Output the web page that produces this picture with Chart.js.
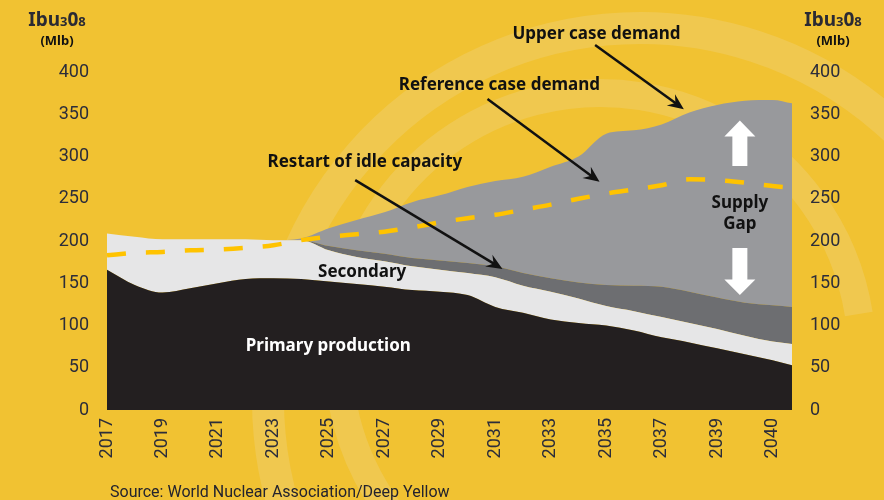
<!DOCTYPE html>
<html>
<head>
<meta charset="utf-8">
<script src="https://cdn.jsdelivr.net/npm/chart.js@4.4.1/dist/chart.umd.min.js"></script>
<style>
  html, body { margin: 0; padding: 0; background: #F1C232; }
  #caja { width: 884px; height: 500px; }
</style>
</head>
<body>
<div id="caja"><canvas id="grafico" width="884" height="500"></canvas></div>
<script>
// DATOS (Mlb U3O8)
const years = [2017, 2018, 2019, 2020, 2021, 2022, 2023, 2024, 2025, 2026, 2027, 2028, 2029,
  2030, 2031, 2032, 2033, 2034, 2035, 2036, 2037, 2038, 2039, 2040, 2041, 2041.7];

const primaryProduction = [166, 148, 139, 144, 150, 155, 156, 155, 152, 149, 146, 142, 140,
  136, 122, 115, 107, 103, 100, 94, 86, 80, 73, 66, 59, 53];
const withSecondary = [209, 205, 202, 202, 202, 202, 201, 201, 189, 181, 176, 170, 166,
  162, 157, 147, 140, 132, 123, 117, 110, 103, 96, 88, 81, 78];
const withRestart = [209, 205, 202, 202, 202, 202, 201, 201, 194, 189, 185, 180, 177,
  174, 170, 162, 156, 151, 148, 147, 146, 140, 133, 127, 124, 122];
const upperCaseDemand = [209, 205, 202, 202, 202, 202, 201, 203, 215, 225, 234, 246, 254,
  264, 271, 276, 288, 300, 327, 331, 338, 352, 361, 366, 367, 363];
const referenceCaseDemand = [183, 186, 187, 189, 190, 192, 195, 201, 205, 208, 211, 216, 222,
  227, 231, 237, 243, 250, 256, 261, 266, 273, 272, 269, 265, 263];

const tickYears = [2017, 2019, 2021, 2023, 2025, 2027, 2029, 2031, 2033, 2035, 2037, 2039, 2041];
const tickLabels = ['2017', '2019', '2021', '2023', '2025', '2027', '2029', '2031', '2033',
  '2035', '2037', '2039', '2040'];

// etiquetas y flechas (en unidades de datos: año, Mlb)
const textos = [
  { t: 'Upper case demand', x: 2034.65, y: 445, color: '#111' },
  { t: 'Reference case demand', x: 2031.15, y: 385, color: '#111' },
  { t: 'Restart of idle capacity', x: 2026.3, y: 293.5, color: '#111' },
  { t: 'Secondary', x: 2026.2, y: 163, color: '#111' },
  { t: 'Primary production', x: 2024.98, y: 76, color: '#fff' },
  { t: 'Supply', x: 2039.82, y: 245, color: '#111' },
  { t: 'Gap', x: 2039.82, y: 220, color: '#111' }
];
const flechas = [
  { x1: 2034.6, y1: 432, x2: 2037.8, y2: 356 },
  { x1: 2030.72, y1: 368, x2: 2034.76, y2: 270 },
  { x1: 2025.95, y1: 272, x2: 2031.26, y2: 167 }
];

const serie = (vals) => vals.map((v, i) => ({ x: years[i], y: v }));

function flecha(ctx, x1, y1, x2, y2) {
  const a = Math.atan2(y2 - y1, x2 - x1);
  const L = 16, W = 7;
  ctx.beginPath();
  ctx.moveTo(x1, y1);
  ctx.lineTo(x2 - Math.cos(a) * L * 0.6, y2 - Math.sin(a) * L * 0.6);
  ctx.stroke();
  ctx.save();
  ctx.translate(x2, y2);
  ctx.rotate(a);
  ctx.beginPath();
  ctx.moveTo(0, 0);
  ctx.lineTo(-L, -W);
  ctx.lineTo(-L * 0.65, 0);
  ctx.lineTo(-L, W);
  ctx.closePath();
  ctx.fill();
  ctx.restore();
}

const fondo = {
  id: 'fondo',
  beforeDraw(chart) {
    const { ctx, width, height } = chart;
    ctx.save();
    ctx.fillStyle = '#F1C232';
    ctx.fillRect(0, 0, width, height);
    ctx.strokeStyle = '#F0C84F';
    ctx.lineWidth = 28;
    ctx.beginPath();
    ctx.arc(600, 355, 262, Math.PI * 0.8, Math.PI * 1.95);
    ctx.stroke();
    ctx.lineWidth = 32;
    ctx.beginPath();
    ctx.arc(640, 400, 372, Math.PI * 0.85, Math.PI * 1.9);
    ctx.stroke();
    ctx.restore();
  }
};

const notas = {
  id: 'notas',
  afterDatasetsDraw(chart) {
    const { ctx } = chart;
    const sx = chart.scales.x, sy = chart.scales.y;
    ctx.save();
    // flechas negras
    ctx.strokeStyle = '#111';
    ctx.fillStyle = '#111';
    ctx.lineWidth = 2.5;
    flechas.forEach(f => flecha(ctx, sx.getPixelForValue(f.x1), sy.getPixelForValue(f.y1),
      sx.getPixelForValue(f.x2), sy.getPixelForValue(f.y2)));

    // flechas blancas del gap
    const cx = sx.getPixelForValue(2039.82);
    ctx.fillStyle = '#fff';
    let top = sy.getPixelForValue(342.6), base = sy.getPixelForValue(323.7), fin = sy.getPixelForValue(288.8);
    ctx.beginPath();
    ctx.moveTo(cx, top); ctx.lineTo(cx + 15.5, base); ctx.lineTo(cx + 7.5, base);
    ctx.lineTo(cx + 7.5, fin); ctx.lineTo(cx - 7.5, fin); ctx.lineTo(cx - 7.5, base);
    ctx.lineTo(cx - 15.5, base); ctx.closePath(); ctx.fill();
    top = sy.getPixelForValue(191.7); base = sy.getPixelForValue(154.4); fin = sy.getPixelForValue(136.1);
    ctx.beginPath();
    ctx.moveTo(cx - 7.5, top); ctx.lineTo(cx + 7.5, top); ctx.lineTo(cx + 7.5, base);
    ctx.lineTo(cx + 15.5, base); ctx.lineTo(cx, fin); ctx.lineTo(cx - 15.5, base);
    ctx.lineTo(cx - 7.5, base); ctx.closePath(); ctx.fill();

    // textos
    ctx.font = 'bold 17px "Noto Sans"';
    ctx.textAlign = 'center';
    ctx.textBaseline = 'middle';
    textos.forEach(t => {
      ctx.fillStyle = t.color;
      ctx.fillText(t.t, sx.getPixelForValue(t.x), sy.getPixelForValue(t.y));
    });
    ctx.restore();
  },
  afterDraw(chart) {
    const { ctx } = chart;
    ctx.save();
    ctx.fillStyle = '#2A2A33';
    const titulo = (cx) => {
      const partes = [['Ibu', 19], ['3', 13], ['0', 19], ['8', 13]];
      let w = 0;
      partes.forEach(p => { ctx.font = 'bold ' + p[1] + 'px "Noto Sans"'; w += ctx.measureText(p[0]).width; });
      let x = cx - w / 2;
      ctx.textAlign = 'left';
      ctx.textBaseline = 'alphabetic';
      partes.forEach(p => {
        ctx.font = 'bold ' + p[1] + 'px "Noto Sans"';
        ctx.fillText(p[0], x, 26);
        x += ctx.measureText(p[0]).width;
      });
      ctx.font = 'bold 13px "Noto Sans"';
      ctx.textAlign = 'center';
      ctx.fillStyle = '#111';
      ctx.fillText('(Mlb)', cx, 45);
      ctx.fillStyle = '#2A2A33';
    };
    titulo(57);
    titulo(833);
    ctx.font = '16px Roboto';
    ctx.textAlign = 'left';
    ctx.fillStyle = '#23232E';
    ctx.fillText('Source: World Nuclear Association/Deep Yellow', 110, 497);
    ctx.restore();
  }
};

const fuenteTicks = { family: 'Roboto', size: 18 };
const colorTicks = '#2C2D3A';

new Chart(document.getElementById('grafico').getContext('2d'), {
  type: 'line',
  data: {
    datasets: [
      { label: 'Primary production', data: serie(primaryProduction), fill: 'origin',
        backgroundColor: '#231F20', borderWidth: 0, pointRadius: 0, cubicInterpolationMode: 'monotone' },
      { label: 'Secondary', data: serie(withSecondary), fill: '-1',
        backgroundColor: '#E6E6E7', borderWidth: 0, pointRadius: 0, cubicInterpolationMode: 'monotone' },
      { label: 'Restart of idle capacity', data: serie(withRestart), fill: '-1',
        backgroundColor: '#6D6E71', borderWidth: 0, pointRadius: 0, cubicInterpolationMode: 'monotone' },
      { label: 'Upper case demand', data: serie(upperCaseDemand), fill: '-1',
        backgroundColor: '#98999C', borderWidth: 0, pointRadius: 0, cubicInterpolationMode: 'monotone' },
      { label: 'Reference case demand', data: serie(referenceCaseDemand), fill: false, order: -1,
        borderColor: '#FFC300', borderWidth: 4.5, borderDash: [19, 20], borderCapStyle: 'butt',
        pointRadius: 0, cubicInterpolationMode: 'monotone' }
    ]
  },
  options: {
    responsive: false,
    animation: false,
    layout: { padding: { top: 72, bottom: 0, left: 0, right: 0 } },
    plugins: { legend: { display: false }, tooltip: { enabled: false } },
    scales: {
      x: {
        type: 'linear', min: 2017, max: 2041.7,
        grid: { display: false, drawTicks: false }, border: { display: false },
        afterBuildTicks: (s) => { s.ticks = tickYears.map(v => ({ value: v })); },
        afterFit: (s) => { s.height = 90; },
        ticks: {
          minRotation: 90, maxRotation: 90, autoSkip: false, padding: 8,
          font: fuenteTicks, color: colorTicks,
          callback: (v, i) => tickLabels[i]
        }
      },
      y: {
        position: 'left', min: 0, max: 400,
        grid: { display: false, drawTicks: false }, border: { display: false },
        afterFit: (s) => { s.width = 107; },
        ticks: { stepSize: 50, padding: 18, font: fuenteTicks, color: colorTicks }
      },
      y2: {
        position: 'right', min: 0, max: 400,
        grid: { display: false, drawTicks: false }, border: { display: false },
        afterFit: (s) => { s.width = 92; },
        ticks: { stepSize: 50, padding: 18, font: fuenteTicks, color: colorTicks }
      }
    }
  },
  plugins: [fondo, notas]
});
</script>
</body>
</html>
